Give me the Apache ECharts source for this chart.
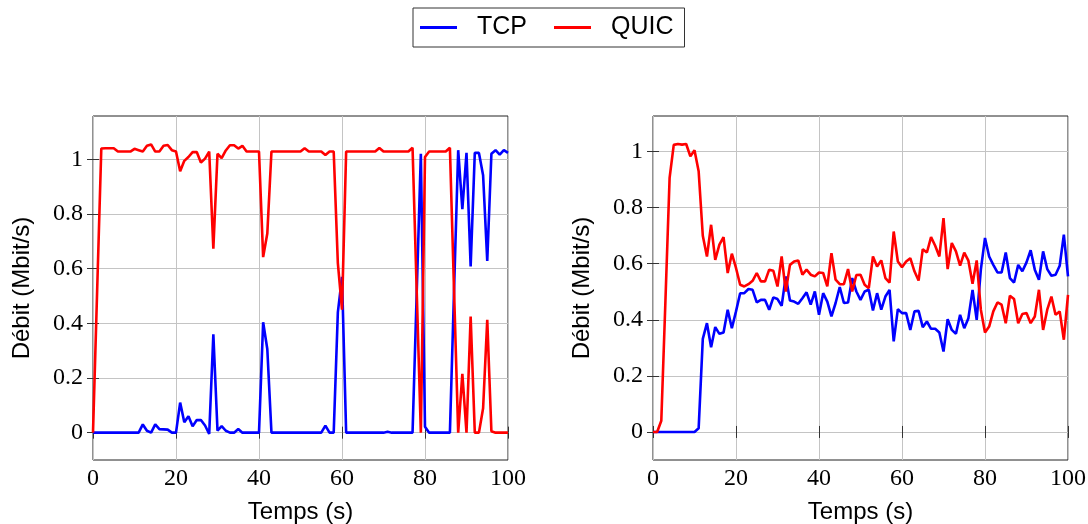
<!DOCTYPE html>
<html>
<head>
<meta charset="utf-8">
<script src="https://cdn.jsdelivr.net/npm/echarts@6/dist/echarts.min.js"></script>
<style>
html,body{margin:0;padding:0;background:#fff;}
#chart{width:1088px;height:524px;}
</style>
</head>
<body>
<div id="chart"></div>
<script>
// Time (s)
const times = [0,1,2,3,4,5,6,7,8,9,10,11,12,13,14,15,16,17,18,19,20,21,22,23,24,25,26,27,28,29,30,31,32,33,34,35,36,37,38,39,40,41,42,43,44,45,46,47,48,49,50,51,52,53,54,55,56,57,58,59,60,61,62,63,64,65,66,67,68,69,70,71,72,73,74,75,76,77,78,79,80,81,82,83,84,85,86,87,88,89,90,91,92,93,94,95,96,97,98,99,100];

// Left chart
const leftTcp = [0,0,0,0,0,0,0,0,0,0,0,0,0.03,0.007,0,0.03,0.013,0.012,0.011,0,0,
  0.11,0.038,0.06,0.023,0.046,0.046,0.026,-0.005,0.36,0.007,
  0.024,0.007,0,0,0.013,0,0,0,0,0,
  0.404,0.306,0,0,0,0,0,0,0,0,
  0,0,0,0,0,0.026,0,0,0.44,0.57,
  0,0,0,0,0,0,0,0,0,0,
  0.003,0,0,0,0,0,0,0.51,1.02,0.022,
  0,0,0,0,0,0,0.52,1.033,0.817,1.023,
  0.608,1.023,1.023,0.941,0.628,1.02,1.033,1.017,1.033,1.023];
const leftQuic = [0,0.52,1.039,1.04,1.04,1.04,1.028,1.028,1.028,1.028,1.038,
  1.033,1.028,1.049,1.054,1.028,1.028,1.049,1.052,1.033,1.028,
  0.956,0.994,1.008,1.026,1.026,0.988,1.002,1.028,0.673,1.02,
  1.004,1.032,1.051,1.051,1.039,1.049,1.028,1.028,1.028,1.028,
  0.642,0.728,1.028,1.028,1.028,1.028,1.028,1.028,1.028,1.028,
  1.04,1.028,1.028,1.028,1.028,1.015,1.028,1.028,0.62,0.45,
  1.028,1.028,1.028,1.028,1.028,1.028,1.028,1.028,1.041,1.028,
  1.028,1.028,1.028,1.028,1.028,1.028,1.042,0.52,0,1.008,
  1.028,1.028,1.028,1.028,1.028,1.042,0.52,0,0.215,0,
  0.425,0,0,0.089,0.413,0.005,0,0,0,0];

// Right chart
const rightTcp = [0,0,0,0,0,0,0,0,0,0,0,
  0.013,0.332,0.388,0.302,0.374,0.35,0.355,0.436,0.37,0.43,
  0.495,0.495,0.51,0.507,0.462,0.471,0.471,0.436,0.48,0.474,
  0.45,0.555,0.469,0.465,0.457,0.477,0.498,0.454,0.501,0.418,
  0.495,0.465,0.412,0.46,0.517,0.46,0.462,0.549,0.501,0.471,
  0.501,0.507,0.433,0.495,0.436,0.483,0.507,0.323,0.438,0.424,
  0.424,0.364,0.43,0.432,0.374,0.394,0.368,0.368,0.355,0.287,
  0.402,0.364,0.35,0.418,0.37,0.406,0.507,0.4,0.579,0.692,
  0.626,0.596,0.569,0.569,0.64,0.549,0.533,0.596,0.573,0.605,
  0.648,0.579,0.543,0.644,0.581,0.557,0.561,0.593,0.704,0.555];
const rightQuic = [0,0,0.04,0.47,0.906,1.024,1.027,1.025,1.027,0.983,1.005,
  0.93,0.70,0.626,0.739,0.614,0.668,0.695,0.567,0.636,0.585,
  0.525,0.519,0.527,0.539,0.567,0.537,0.537,0.579,0.575,0.519,
  0.626,0.501,0.596,0.608,0.612,0.561,0.579,0.561,0.555,0.569,
  0.567,0.519,0.638,0.543,0.527,0.527,0.581,0.501,0.56,0.561,
  0.525,0.513,0.626,0.59,0.612,0.549,0.533,0.715,0.608,0.588,
  0.608,0.62,0.573,0.54,0.652,0.64,0.695,0.664,0.626,0.763,
  0.581,0.674,0.644,0.593,0.64,0.611,0.529,0.612,0.436,0.355,
  0.376,0.43,0.462,0.454,0.388,0.486,0.474,0.388,0.421,0.424,
  0.388,0.412,0.507,0.364,0.436,0.483,0.418,0.43,0.329,0.489];

const xTicks = [0,20,40,60,80,100];
const yTicks = [0,0.2,0.4,0.6,0.8,1];
const seriesNames = ['TCP','QUIC'];
const seriesColors = ['#0000ff','#ff0000'];

function pairs(vals){ return times.map((t,i)=>[t, vals[i]]); }

const tickFont = {fontFamily:'Liberation Serif', fontSize:24, color:'#000'};
const nameFont = {fontFamily:'Liberation Sans', fontSize:24, color:'#000'};
const tickStyle = {show:true, inside:true, length:6, lineStyle:{color:'#333', width:1}};
const gridLine = {show:true, lineStyle:{color:'#c4c4c4', width:1}};

function xAxes(g){
  return [
    {gridIndex:g, type:'value', min:0, max:100, interval:20, position:'bottom',
     axisLine:{show:false}, axisTick:tickStyle, splitLine:gridLine,
     axisLabel:Object.assign({margin:7}, tickFont),
     name:'Temps (s)', nameLocation:'middle', nameGap:40, nameTextStyle:nameFont},
    {gridIndex:g, type:'value', min:0, max:100, interval:20, position:'top',
     axisLine:{show:false}, axisTick:tickStyle, splitLine:{show:false}, axisLabel:{show:false}}
  ];
}
function yAxes(g, ymax){
  return [
    {gridIndex:g, type:'value', min:-0.1, max:ymax, position:'left',
     axisLine:{show:false},
     axisTick:Object.assign({customValues:yTicks}, tickStyle),
     splitLine:gridLine,
     axisLabel:Object.assign({customValues:yTicks, margin:10}, tickFont),
     name:'Débit (Mbit/s)', nameLocation:'middle', nameGap:59, nameTextStyle:nameFont},
    {gridIndex:g, type:'value', min:-0.1, max:ymax, position:'right',
     axisLine:{show:false},
     axisTick:Object.assign({customValues:yTicks}, tickStyle),
     splitLine:{show:false}, axisLabel:{show:false}}
  ];
}

function mkSeries(name, color, vals, g){
  return {name:name, type:'line', xAxisIndex:g*2, yAxisIndex:g*2, data:pairs(vals),
    showSymbol:false, symbol:'none', lineStyle:{color:color, width:2.6}, itemStyle:{color:color},
    clip:true, animation:false};
}

const chart = echarts.init(document.getElementById('chart'), null, {renderer:'canvas'});
chart.setOption({
  animation:false,
  backgroundColor:'#fff',
  legend:{
    left:413, top:8, orient:'horizontal',
    data:seriesNames.map((n,i)=>({name:n, icon:'rect', itemStyle:{color:seriesColors[i]}})),
    itemWidth:37, itemHeight:3, itemGap:27,
    borderColor:'#333', borderWidth:1, borderRadius:0,
    padding:[6,11,6,7],
    textStyle:{fontFamily:'Liberation Sans', fontSize:25, color:'#000', lineHeight:27, padding:[0,0,0,15]}
  },
  grid:[
    {left:93, top:116, width:415, height:344, show:true, borderColor:'#222', borderWidth:1, backgroundColor:'transparent', containLabel:false, outerBoundsMode:'none'},
    {left:653, top:116, width:415, height:344, show:true, borderColor:'#222', borderWidth:1, backgroundColor:'transparent', containLabel:false, outerBoundsMode:'none'}
  ],
  xAxis:[].concat(xAxes(0), xAxes(1)),
  yAxis:[].concat(yAxes(0, 1.158), yAxes(1, 1.127)),
  series:[
    mkSeries(seriesNames[0], seriesColors[0], leftTcp, 0),
    mkSeries(seriesNames[1], seriesColors[1], leftQuic, 0),
    mkSeries(seriesNames[0], seriesColors[0], rightTcp, 1),
    mkSeries(seriesNames[1], seriesColors[1], rightQuic, 1)
  ]
});
</script>
</body>
</html>
